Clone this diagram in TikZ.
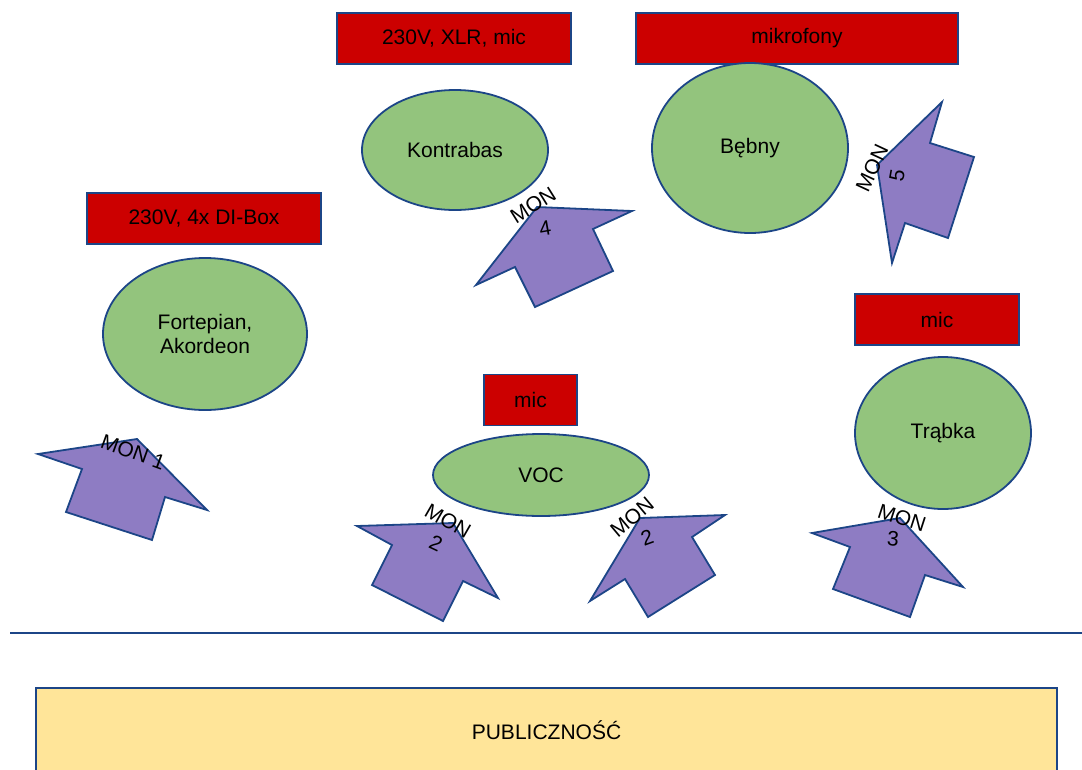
\documentclass[tikz,border=0pt]{standalone}
\usepackage{fontspec}
\setmainfont{Liberation Sans}
\usetikzlibrary{shapes.geometric}
\definecolor{navy}{HTML}{1C4587}
\definecolor{plugred}{HTML}{CC0000}
\definecolor{instgreen}{HTML}{93C47D}
\definecolor{monviolet}{HTML}{8E7CC3}
\definecolor{crowdyellow}{HTML}{FFE599}
\begin{document}
\begin{tikzpicture}
  [x=1pt,y=-1pt,line width=1.8pt,every node/.style={font=\fontsize{21}{24}\selectfont}]
  \tikzstyle{plug} = [draw=navy,fill=plugred,minimum height=51pt,inner sep=0pt]
  \tikzstyle{inst} = [ellipse,draw=navy,fill=instgreen,align=center,inner sep=0pt]
  \tikzstyle{mon} = [draw=navy,fill=monviolet]
  \tikzstyle{monlabel} = [inner sep=0pt]
  \useasboundingbox (0,0) rectangle (1082,769);
  % power and mic boxes
  \foreach \name /\x /\y /\w /\txt in {p1/454/38.5/234/{230V, XLR, mic},p2/797/38.5/322/mikrofony,
      p3/204/218.5/234/{230V, 4x DI-Box},p4/530.5/400/93/mic,p5/937/319.5/164/mic}
   \node[plug,minimum width=\w pt] (\name) at (\x,\y) {\txt};
  % instruments
  \node[inst,minimum width=186pt,minimum height=120pt] (kontrabas) at (455,150) {Kontrabas};
  \node[inst,minimum width=196pt,minimum height=170pt] (bebny) at (750,148) {Bębny};
  \node[inst,minimum width=204pt,minimum height=152pt] (fortepian) at (205,334) {Fortepian,\\Akordeon};
  \node[inst,minimum width=216pt,minimum height=82pt] (voc) at (541,475) {VOC};
  \node[inst,minimum width=176pt,minimum height=152pt] (trabka) at (943,433) {Trąbka};
  % monitors
  \draw[mon] (38,454) -- (137,439) -- (207,510) -- (165,497) -- (152,540) -- (66,512) -- (82,469) -- cycle;
  \draw[mon] (537,207) -- (632,211) -- (593,229) -- (613,271) -- (535,307) -- (515,267) -- (476,285) -- cycle;
  \draw[mon] (877,165) -- (942,102) -- (930,143) -- (974,157) -- (948,238) -- (905,223) -- (892,263) -- cycle;
  \draw[mon] (357,526) -- (453,523) -- (498,598) -- (463,581) -- (443,621) -- (372,585) -- (392,545) -- cycle;
  \draw[mon] (640,518) -- (725,515) -- (692,537) -- (715,575) -- (648,617) -- (625,579) -- (590,601) -- cycle;
  \draw[mon] (812,533) -- (900,518) -- (963,587) -- (925,575) -- (910,617) -- (833,589) -- (850,547) -- cycle;
  \node[monlabel,rotate=-20] (m1) at (133,452) {MON 1};
  \node[monlabel,rotate=32] (m4) at (533,205) {MON};
  \node[monlabel,rotate=10] (m4n) at (545,228) {4};
  \node[monlabel,rotate=65] (m5) at (872,168) {MON};
  \node[monlabel,rotate=80] (m5n) at (897,176) {5};
  \node[monlabel,rotate=-30] (m2a) at (448,521) {MON};
  \node[monlabel,rotate=-25] (m2an) at (436,543) {2};
  \node[monlabel,rotate=40] (m2b) at (632,517) {MON};
  \node[monlabel,rotate=20] (m2bn) at (647,538) {2};
  \node[monlabel,rotate=-18] (m3) at (902,518) {MON};
  \node[monlabel,rotate=-5] (m3n) at (893,539) {3};
  % stage edge and audience
  \coordinate (edgel) at (10,633);
  \coordinate (edger) at (1082,633);
  \draw[navy] (edgel) -- (edger);
  \node[draw=navy,fill=crowdyellow,minimum width=1021pt,minimum height=84pt] (crowd) at (546.5,730) {PUBLICZNOŚĆ};
\end{tikzpicture}
\end{document}
